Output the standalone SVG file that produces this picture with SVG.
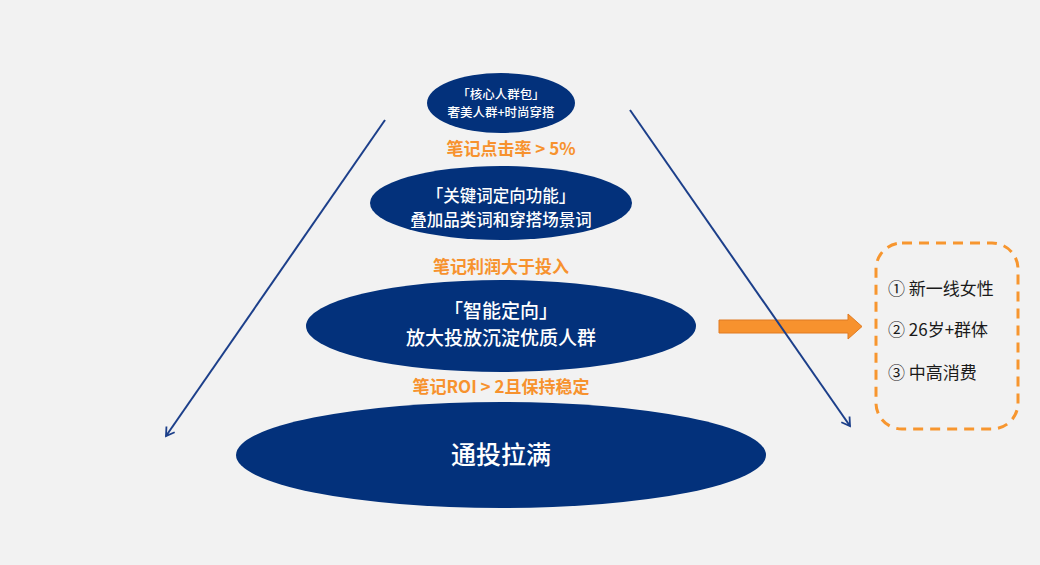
<svg xmlns="http://www.w3.org/2000/svg" width="1040" height="565" viewBox="0 0 1040 565">
<defs>
<marker id="ah" markerWidth="12" markerHeight="12" refX="9" refY="6" orient="auto" markerUnits="userSpaceOnUse">
<path d="M1,1 L9,6 L1,11" fill="none" stroke="#1c3f8a" stroke-width="1.8"/>
</marker>
<style>
.ell{fill:#03317b}
.wt{fill:#ffffff;font-family:"Noto Sans CJK SC","Liberation Sans",sans-serif;text-anchor:middle;font-weight:500}
.ot{fill:#f7922e;font-family:"Noto Sans CJK SC","Liberation Sans",sans-serif;text-anchor:middle;font-weight:700;font-size:17px}
.bt{fill:#1a1a1a;font-family:"Noto Sans CJK SC","Liberation Sans",sans-serif;font-size:17px}
.ln{stroke:#1c3f8a;stroke-width:2;fill:none}
</style>
</defs>
<rect width="1040" height="565" fill="#f2f2f2"/>

<g id="node-core">
<ellipse class="ell" cx="501" cy="103" rx="74" ry="30"/>
<text class="wt" x="501" y="99" font-size="12.5">「核心人群包」</text>
<text class="wt" x="501" y="117" font-size="12.5">奢美人群+时尚穿搭</text>
</g>
<text class="ot" x="511" y="155">笔记点击率 &gt; 5%</text>

<g id="node-keyword">
<ellipse class="ell" cx="501" cy="203" rx="131" ry="37"/>
<text class="wt" x="501" y="202" font-size="16.5">「关键词定向功能」</text>
<text class="wt" x="501" y="226" font-size="16.5">叠加品类词和穿搭场景词</text>
</g>
<text class="ot" x="501" y="273">笔记利润大于投入</text>

<g id="node-smart">
<ellipse class="ell" cx="501" cy="326" rx="195" ry="46"/>
<text class="wt" x="501" y="318" font-size="19">「智能定向」</text>
<text class="wt" x="501" y="345" font-size="19">放大投放沉淀优质人群</text>
</g>
<text class="ot" x="501" y="393">笔记ROI &gt; 2且保持稳定</text>

<g id="node-all">
<ellipse class="ell" cx="501" cy="455" rx="265" ry="53"/>
<text class="wt" x="501" y="464" font-size="25">通投拉满</text>
</g>

<g id="node-audience">
<rect x="876" y="243" width="142" height="186" rx="26" ry="26" fill="none" stroke="#f7962f" stroke-width="3" stroke-dasharray="10 7"/>
<text class="bt" x="888" y="295">① 新一线女性</text>
<text class="bt" x="888" y="336">② 26岁+群体</text>
<text class="bt" x="888" y="379">③ 中高消费</text>
</g>

<g id="connectors">
<path d="M719,320 L848,320 L848,314 L862,326.5 L848,339 L848,333 L719,333 Z" fill="#f7922e" stroke="#e07b22" stroke-width="1"/>
<line class="ln" x1="385" y1="120" x2="166" y2="436" marker-end="url(#ah)"/>
<line class="ln" x1="630" y1="110" x2="850" y2="426" marker-end="url(#ah)"/>
</g>
</svg>
